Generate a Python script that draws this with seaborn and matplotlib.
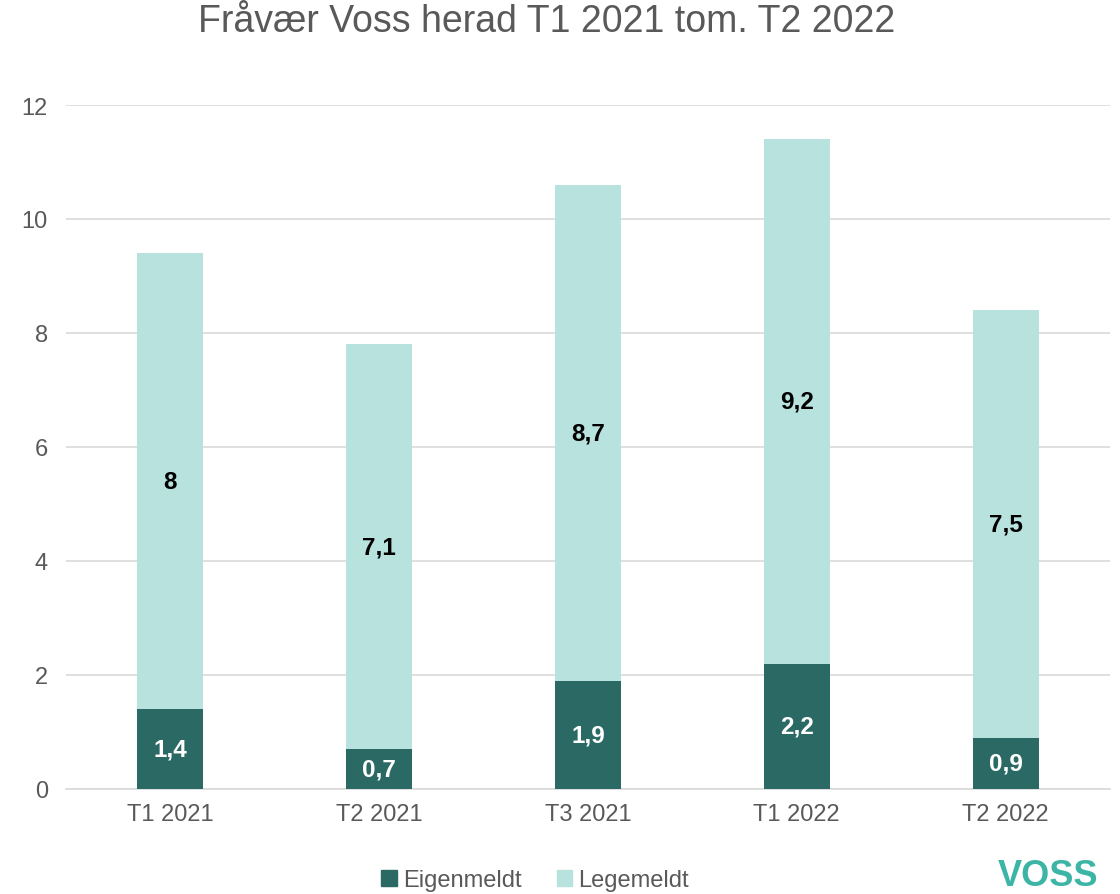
import matplotlib
matplotlib.use("Agg")
import matplotlib.pyplot as plt
import seaborn as sns
import pandas as pd
from matplotlib.patches import Patch

categories = ["T1 2021", "T2 2021", "T3 2021", "T1 2022", "T2 2022"]
eigenmeldt = [1.4, 0.7, 1.9, 2.2, 0.9]
legemeldt = [8, 7.1, 8.7, 9.2, 7.5]
yticks = [0, 2, 4, 6, 8, 10, 12]
title = "Fråvær Voss herad T1 2021 tom. T2 2022"

DARK = "#2B6A64"
LIGHT = "#B7E2DE"
GRAY = "#595959"
GRID = "#D9D9D9"

sns.set_theme(style="white")
plt.rcParams["font.family"] = ["Liberation Sans", "DejaVu Sans"]

df = pd.DataFrame({"cat": categories, "eigen": eigenmeldt, "lege": legemeldt})
df["total"] = df["eigen"] + df["lege"]

fig = plt.figure(figsize=(11.2, 8.95), dpi=100)
ax = fig.add_axes([66 / 1120, 1 - 790 / 895, (1110 - 66) / 1120, (790 - 106) / 895])

width = 66 / 209
sns.barplot(data=df, x="cat", y="total", color=LIGHT, saturation=1, width=width, ax=ax,
            zorder=2, linewidth=0)
sns.barplot(data=df, x="cat", y="eigen", color=DARK, saturation=1, width=width, ax=ax,
            zorder=3, linewidth=0)

light_bars = ax.containers[0]
dark_bars = ax.containers[1]
for bar, e, l in zip(light_bars, eigenmeldt, legemeldt):
    x = bar.get_x() + bar.get_width() / 2
    ax.text(x, e + l / 2, f"{l:g}".replace(".", ","), ha="center", va="center",
            fontsize=17.5, fontweight="bold", color="black", zorder=5)
for bar, e in zip(dark_bars, eigenmeldt):
    x = bar.get_x() + bar.get_width() / 2
    ax.text(x, e / 2, f"{e:g}".replace(".", ","), ha="center", va="center",
            fontsize=17.5, fontweight="bold", color="white", zorder=5)

ax.set_xlim(-0.5, 4.5)
ax.set_ylim(0, 12)
ax.set_yticks(yticks)
ax.set_yticklabels([str(t) for t in yticks])
ax.yaxis.grid(True, color=GRID, linewidth=1.2, zorder=0)
ax.set_axisbelow(True)
ax.set_xlabel("")
ax.set_ylabel("")
for s in ["top", "right", "left"]:
    ax.spines[s].set_visible(False)
ax.spines["bottom"].set_color(GRID)
ax.spines["bottom"].set_linewidth(1.2)
ax.tick_params(axis="both", length=0, labelsize=17, labelcolor=GRAY)
ax.tick_params(axis="y", pad=13)
ax.tick_params(axis="x", pad=10)

fig.text(547 / 1120, 1 - 22 / 895, title, ha="center", va="center", fontsize=27, color=GRAY)

handles = [Patch(color=DARK, label="Eigenmeldt"), Patch(color=LIGHT, label="Legemeldt")]
fig.legend(handles=handles, loc="center", bbox_to_anchor=(535 / 1120, 1 - 881 / 895), ncol=2,
           frameon=False, fontsize=17, labelcolor=GRAY, handlelength=0.65, handleheight=0.65,
           handletextpad=0.25, columnspacing=1.5)

fig.text(1048 / 1120, 1 - 877 / 895, "VOSS", ha="center", va="center", fontsize=26,
         fontweight="bold", color="#3DB5A6")

fig.savefig("out.png", dpi=100)
